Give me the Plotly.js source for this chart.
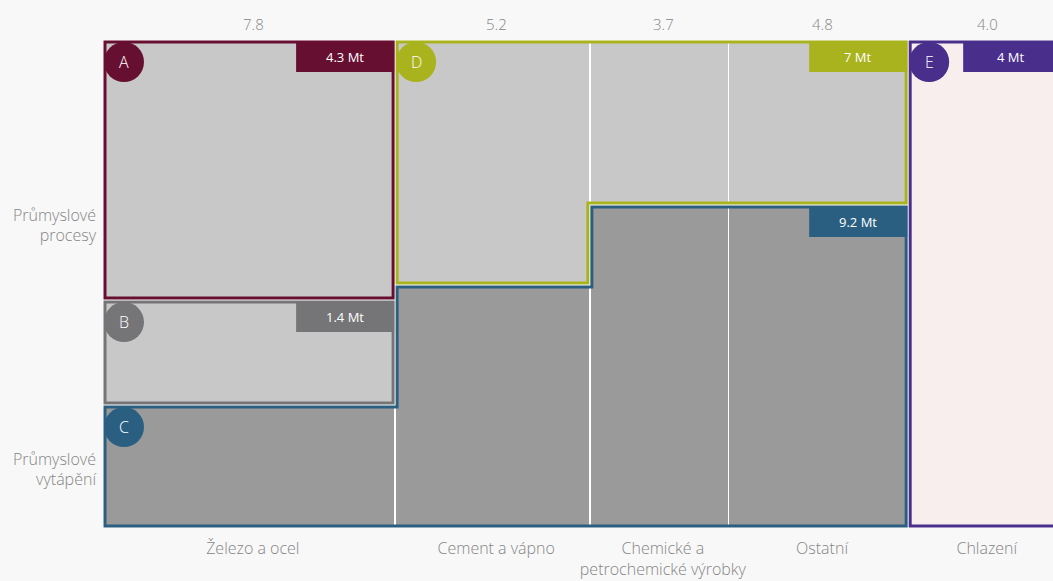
<!DOCTYPE html>
<html>
<head>
<meta charset="utf-8">
<script src="https://cdn.plot.ly/plotly-3.0.1.min.js"></script>
<style>html,body{margin:0;padding:0;background:#f8f8f8;}#chart{width:1053px;height:581px;}</style>
</head>
<body>
<div id="chart"></div>
<script>
// ---- data ----
var categories = ['Železo a ocel', 'Cement a vápno', 'Chemické a<br>petrochemické výrobky', 'Ostatní', 'Chlazení'];
var widthLabels = ['7.8', '5.2', '3.7', '4.8', '4.0'];
var widths = [7.8, 5.2, 3.7, 4.8, 4.0];
var heatingShare = [0.252, 0.498, 0.662, 0.662, 0];     // C – průmyslové vytápění
var processBShare = [0.215, 0, 0, 0, 0];                // B
var processShare = [0.533, 0.502, 0.338, 0.338, 0];     // A / D – průmyslové procesy
var coolingShare = [0, 0, 0, 0, 1];                     // E – chlazení
var groupLetters = ['A', 'B', 'C', 'D', 'E'];
var groupValues = ['4.3 Mt', '1.4 Mt', '9.2 Mt', '7 Mt', '4 Mt'];
var rowLabels = ['Průmyslové<br>procesy', 'Průmyslové<br>vytápění'];

// ---- styles ----
var colors = {A: '#660f30', B: '#757577', C: '#2a5f81', D: '#a9b31d', E: '#4a2e8b'};
var lightGrey = '#c8c8c8', darkGrey = '#9a9a9a', pink = '#f8eeee';
var txt = '#858585';
var FONT = 'Open Sans, sans-serif';
var W = 300;

// geometry
var plotL = 103, plotR = 1053, plotT = 40, plotB = 528;
var edges = [0];
widths.forEach(function (w, i) { edges.push(edges[i] + w); });
var centers = widths.map(function (w, i) { return edges[i] + w / 2; });
var pxPerX = 37.45;
var xMax = (plotR - plotL) / pxPerX;
var pxPerY = plotB - plotT;
var ix = 2 / pxPerX, iy = 2 / pxPerY;

var common = {type: 'bar', x: centers, width: widths, hoverinfo: 'skip', showlegend: false,
  marker: {line: {color: '#ffffff', width: 1.5}}};
function bar(y, color) {
  var t = JSON.parse(JSON.stringify(common));
  t.y = y; t.marker.color = color; return t;
}
var traces = [
  bar(heatingShare, darkGrey),
  bar(processBShare, lightGrey),
  bar(processShare, lightGrey),
  bar(coolingShare, pink)
];

function pathOf(pts) {
  return 'M' + pts.map(function (p) { return p[0] + ',' + p[1]; }).join('L') + 'Z';
}
var shapes = [];
var annotations = [];
function outline(pts, color) {
  shapes.push({type: 'path', xref: 'x', yref: 'y', path: pathOf(pts), line: {color: color, width: 3}, fillcolor: 'rgba(0,0,0,0)', layer: 'above'});
}
// A
var a0 = heatingShare[0] + processBShare[0];
outline([[edges[0] + ix, 1 - iy], [edges[1] - ix, 1 - iy], [edges[1] - ix, a0 + iy], [edges[0] + ix, a0 + iy]], colors.A);
// B
outline([[edges[0] + ix, a0 - iy], [edges[1] - ix, a0 - iy], [edges[1] - ix, heatingShare[0] + iy], [edges[0] + ix, heatingShare[0] + iy]], colors.B);
// C (cols 0..3)
var cp = [[edges[0] + ix, iy], [edges[0] + ix, heatingShare[0] - iy]];
for (var i = 0; i < 3; i++) {
  cp.push([edges[i + 1] + ix, heatingShare[i] - iy]);
  cp.push([edges[i + 1] + ix, heatingShare[i + 1] - iy]);
}
cp.push([edges[4] - ix, heatingShare[3] - iy]);
cp.push([edges[4] - ix, iy]);
outline(cp, colors.C);
// D (cols 1..3)
var dp = [[edges[1] + ix, 1 - iy], [edges[4] - ix, 1 - iy], [edges[4] - ix, heatingShare[3] + iy]];
for (var j = 3; j > 1; j--) {
  dp.push([edges[j] - ix, heatingShare[j] + iy]);
  dp.push([edges[j] - ix, heatingShare[j - 1] + iy]);
}
dp.push([edges[1] + ix, heatingShare[1] + iy]);
outline(dp, colors.D);
// E
outline([[edges[4] + ix, 1 - iy], [edges[5] - ix, 1 - iy], [edges[5] - ix, iy], [edges[4] + ix, iy]], colors.E);

// badges & value tags
var groups = [
  {k: 'A', l: edges[0] + ix, r: edges[1] - ix, t: 1 - iy},
  {k: 'B', l: edges[0] + ix, r: edges[1] - ix, t: a0 - iy},
  {k: 'C', l: edges[0] + ix, r: edges[4] - ix, t: heatingShare[0] - iy, tr: heatingShare[3] - iy},
  {k: 'D', l: edges[1] + ix, r: edges[4] - ix, t: 1 - iy},
  {k: 'E', l: edges[4] + ix, r: edges[5] - ix, t: 1 - iy, tagFromLeft: 53}
];
groups.forEach(function (g, idx) {
  var col = colors[g.k];
  var tr = g.tr !== undefined ? g.tr : g.t;
  shapes.push({type: 'circle', xref: 'x', yref: 'y', xsizemode: 'pixel', ysizemode: 'pixel',
    xanchor: g.l, yanchor: g.t, x0: -1, x1: 39, y0: -40, y1: 0, fillcolor: col, line: {width: 0}, layer: 'above'});
  annotations.push({xref: 'x', yref: 'y', x: g.l, y: g.t, xshift: 19, yshift: -20, text: groupLetters[idx],
    showarrow: false, xanchor: 'center', yanchor: 'middle', font: {family: FONT, size: 16, weight: W, color: '#ffffff'}});
  var ax, x0, x1, tshift;
  if (g.tagFromLeft) { ax = g.l; x0 = g.tagFromLeft; x1 = g.tagFromLeft + 100; tshift = g.tagFromLeft + 48; }
  else { ax = g.r; x0 = -97; x1 = 1; tshift = -48; }
  shapes.push({type: 'rect', xref: 'x', yref: 'y', xsizemode: 'pixel', ysizemode: 'pixel',
    xanchor: ax, yanchor: tr, x0: x0, x1: x1, y0: -30, y1: 1, fillcolor: col, line: {width: 0}, layer: 'above'});
  annotations.push({xref: 'x', yref: 'y', x: ax, y: tr, xshift: tshift, yshift: -15, text: groupValues[idx],
    showarrow: false, xanchor: 'center', yanchor: 'middle', font: {family: FONT, size: 13, color: '#ffffff'}});
});
// width labels on top
centers.forEach(function (c, i) {
  annotations.push({xref: 'x', yref: 'paper', x: c, y: 1, yshift: 16, xshift: 4, text: widthLabels[i], showarrow: false,
    xanchor: 'center', yanchor: 'middle', font: {family: FONT, size: 15, weight: W, color: txt}});
});

var layout = {
  width: 1053, height: 581,
  margin: {l: plotL, r: 1053 - plotR, t: plotT, b: 581 - plotB},
  paper_bgcolor: '#f8f8f8', plot_bgcolor: '#f8f8f8',
  barmode: 'stack', bargap: 0,
  font: {family: FONT, color: txt},
  xaxis: {range: [0, xMax], tickvals: centers.map(function (c) { return c + 0.1; }), ticktext: categories,
    showgrid: false, zeroline: false, showline: false, ticks: '', ticklabelstandoff: 9,
    tickfont: {family: FONT, size: 16, weight: W, color: txt}, fixedrange: true},
  yaxis: {range: [0, 1], tickvals: [0.62, 0.12], ticktext: rowLabels, showgrid: false, zeroline: false,
    showline: false, ticks: '', ticklabelstandoff: 6, tickfont: {family: FONT, size: 16, weight: W, color: txt}, fixedrange: true},
  shapes: shapes,
  annotations: annotations
};
Plotly.newPlot('chart', traces, layout, {displayModeBar: false, staticPlot: true});
</script>
</body>
</html>
